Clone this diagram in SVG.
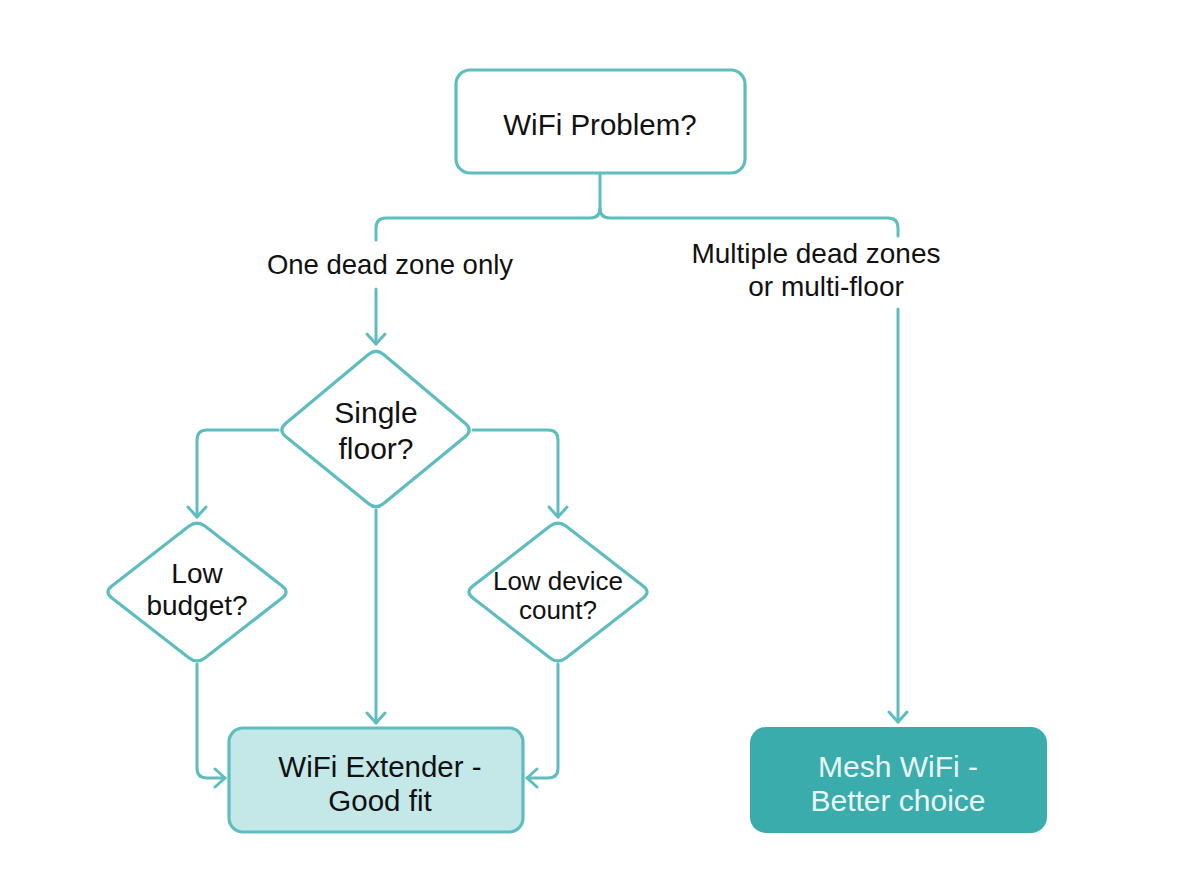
<svg xmlns="http://www.w3.org/2000/svg" width="1200" height="896" viewBox="0 0 1200 896">
<defs>
<style>
.edge{fill:none;stroke:#5ebdbf;stroke-width:3;stroke-linejoin:round;stroke-linecap:round}
.shape{stroke:#5ebdbf;stroke-width:3.2}
.t{font-family:"Liberation Sans",Arial,sans-serif;fill:#111;text-anchor:middle}
.w{fill:#eaf7f7}
</style>
<marker id="arr" viewBox="-12 -12 14 24" markerWidth="14" markerHeight="24" refX="0" refY="0" orient="auto" markerUnits="userSpaceOnUse">
<path d="M-10,-9 L0,0 L-10,9" fill="none" stroke="#5ebdbf" stroke-width="3" stroke-linecap="round" stroke-linejoin="round"/>
</marker>
</defs>
<rect width="1200" height="896" fill="#ffffff"/>
<g id="connectors">
<path class="edge" d="M600,173 V208 Q600,218 590,218 H386 Q376,218 376,228 V240"/>
<path class="edge" d="M376,289 V344" marker-end="url(#arr)"/>
<path class="edge" d="M600,208 Q600,218 610,218 H888 Q898,218 898,228 V236"/>
<path class="edge" d="M898,309 V722" marker-end="url(#arr)"/>
<path class="edge" d="M278,430 H207 Q197,430 197,440 V517" marker-end="url(#arr)"/>
<path class="edge" d="M473,430 H548 Q558,430 558,440 V517" marker-end="url(#arr)"/>
<path class="edge" d="M197,664 V768 Q197,778 207,778 H225" marker-end="url(#arr)"/>
<path class="edge" d="M376,510 V723" marker-end="url(#arr)"/>
<path class="edge" d="M558,664 V768 Q558,778 548,778 H527" marker-end="url(#arr)"/>
<text class="t" x="390" y="274" font-size="27.5">One dead zone only</text>
<text class="t" x="816" y="263" font-size="28">Multiple dead zones</text>
<text class="t" x="826" y="296" font-size="28">or multi-floor</text>
</g>
<g id="n-problem">
<rect class="shape" x="456" y="70" width="289" height="103" rx="14" fill="#ffffff"/>
<text class="t" x="600" y="135" font-size="29.5">WiFi Problem?</text>
</g>
<g id="n-singlefloor">
<path class="shape" fill="#ffffff" d="M368.4,354.5 Q376,348 383.6,354.5 L465.4,423.5 Q473,430 465.4,436.5 L383.6,503.5 Q376,510 368.4,503.5 L285.6,436.5 Q278,430 285.6,423.5 Z"/>
<text class="t" x="376" y="423" font-size="30">Single</text>
<text class="t" x="376" y="459" font-size="30">floor?</text>
</g>
<g id="n-lowbudget">
<path class="shape" fill="#ffffff" d="M189.1,526.1 Q197,520 204.9,526.1 L282.1,585.9 Q290,592 282.1,598.1 L204.9,657.9 Q197,664 189.1,657.9 L111.9,598.1 Q104,592 111.9,585.9 Z"/>
<text class="t" x="197" y="583" font-size="28">Low</text>
<text class="t" x="197" y="615" font-size="28">budget?</text>
</g>
<g id="n-lowdevice">
<path class="shape" fill="#ffffff" d="M550.1,526.1 Q558,520 565.9,526.1 L643.1,585.9 Q651,592 643.1,598.1 L565.9,657.9 Q558,664 550.1,657.9 L472.9,598.1 Q465,592 472.9,585.9 Z"/>
<text class="t" x="558" y="590" font-size="26">Low device</text>
<text class="t" x="558" y="619" font-size="26">count?</text>
</g>
<g id="n-extender">
<rect class="shape" x="229" y="728" width="294" height="104" rx="14" fill="#c4e8e8"/>
<text class="t" x="380" y="777" font-size="29.5">WiFi Extender -</text>
<text class="t" x="380" y="811" font-size="29.5">Good fit</text>
</g>
<g id="n-mesh">
<rect x="750" y="727" width="297" height="106" rx="16" fill="#3aacac"/>
<text class="t w" x="898" y="777" font-size="30">Mesh WiFi -</text>
<text class="t w" x="898" y="811" font-size="30">Better choice</text>
</g>
</svg>
